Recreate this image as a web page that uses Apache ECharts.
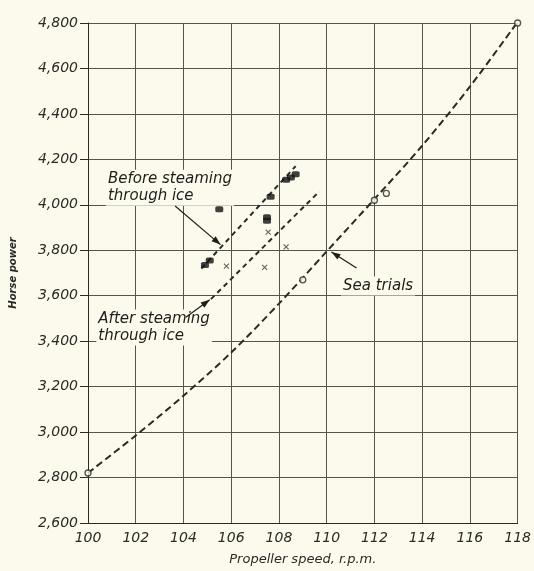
<!DOCTYPE html>
<html>
<head>
<meta charset="utf-8">
<script src="https://cdn.jsdelivr.net/npm/echarts@6/dist/echarts.min.js"></script>
<style>
html,body{margin:0;padding:0;background:#fbfaec;}
#c{width:534px;height:571px;}
</style>
</head>
<body>
<div id="c"></div>
<script>
// ---- data ----
const xTicks = [100,102,104,106,108,110,112,114,116,118];
const yTicks = [2600,2800,3000,3200,3400,3600,3800,4000,4200,4400,4600,4800];

// Sea trials faired curve
const seaCurveX = [100, 102, 104, 106, 108, 110, 112, 114, 116, 118];
const seaCurveY = [2820, 2985, 3160, 3350, 3565, 3795, 4025, 4260, 4520, 4805];
// Sea trials observed points
const seaPtsX = [100, 109, 112, 112.5, 118];
const seaPtsY = [2820, 3670, 4020, 4050, 4800];

// Before steaming through ice
const beforeLineX = [104.75, 108.7];
const beforeLineY = [3720, 4170];
const beforePtsX = [104.9, 105.1, 105.5, 107.5, 107.5, 107.65, 108.3, 108.5, 108.7];
const beforePtsY = [3735, 3755, 3980, 3945, 3930, 4035, 4110, 4120, 4135];

// After steaming through ice
const afterLineX = [105.15, 109.7];
const afterLineY = [3585, 4060];
const afterPtsX = [105.8, 107.4, 107.55, 108.3];
const afterPtsY = [3730, 3725, 3880, 3815];

// annotations (data coords)
const notes = [
  {text:'Before steaming\nthrough ice', at:[100.75, 4075], from:[103.65, 3995], to:[105.55, 3825]},
  {text:'After steaming\nthrough ice',  at:[100.35, 3460], from:[104.1, 3505], to:[105.1, 3582]},
  {text:'Sea trials',                   at:[110.6, 3643], from:[111.25, 3722], to:[110.2, 3792]}
];

const zip = (a,b) => a.map((v,i)=>[v,b[i]]);
const ink = '#2a2a26';
const font = 'DejaVu Sans';

const chart = echarts.init(document.getElementById('c'));
chart.setOption({
  backgroundColor: '#fbfaec',
  animation: false,
  grid: {left: 88, right: 10, top: 23, bottom: 44},
  xAxis: {
    type: 'value', min: 100, max: 118, interval: 2,
    name: 'Propeller speed, r.p.m.', nameLocation: 'middle', nameGap: 30,
    nameTextStyle: {fontFamily: font, fontStyle: 'italic', fontSize: 13, color: ink},
    axisLine: {show: true, lineStyle: {color: ink, width: 1}},
    axisTick: {show: false},
    axisLabel: {fontFamily: font, fontStyle: 'italic', fontSize: 14, color: ink, margin: 8,
                formatter: v => String(v)},
    splitLine: {show: true, lineStyle: {color: '#55554e', width: 1}}
  },
  yAxis: {
    type: 'value', min: 2600, max: 4800, interval: 200,
    name: 'Horse power', nameLocation: 'middle', nameGap: 70, nameRotate: 90,
    nameTextStyle: {fontFamily: font, fontStyle: 'italic', fontWeight: 'bold', fontSize: 10, color: ink},
    axisLine: {show: true, lineStyle: {color: ink, width: 1}},
    axisTick: {show: true, length: 8, lineStyle: {color: ink, width: 1}},
    axisLabel: {fontFamily: font, fontStyle: 'italic', fontSize: 14, color: ink, margin: 10,
                formatter: v => v.toLocaleString('en-US')},
    splitLine: {show: true, lineStyle: {color: '#55554e', width: 1}}
  },
  series: [
    {type: 'line', data: zip(seaCurveX, seaCurveY), smooth: 0.3,
     showSymbol: false, lineStyle: {color: ink, width: 2, type: [7, 4]}, z: 3},
    {type: 'scatter', data: zip(seaPtsX, seaPtsY), symbol: 'circle', symbolSize: 6,
     itemStyle: {color: '#fbfaec', borderColor: ink, borderWidth: 1.3}, z: 5},
    {type: 'line', data: zip(beforeLineX, beforeLineY), showSymbol: false,
     lineStyle: {color: ink, width: 2, type: [5, 4]}, z: 3},
    {type: 'scatter', data: zip(beforePtsX, beforePtsY), symbol: 'roundRect', symbolSize: [8, 6],
     itemStyle: {color: '#111'}, z: 5},
    {type: 'line', data: zip(afterLineX, afterLineY), showSymbol: false,
     lineStyle: {color: ink, width: 2, type: [5, 4]}, z: 3},
    {type: 'scatter', data: zip(afterPtsX, afterPtsY), symbol: 'path://M0,0L10,10M10,0L0,10', symbolSize: 5,
     itemStyle: {color: 'none', borderColor: '#444', borderWidth: 1.2}, z: 5}
  ]
});

// annotations positioned through the axes
const g = [];
notes.forEach(n => {
  const p = chart.convertToPixel({gridIndex: 0}, n.at);
  const a = chart.convertToPixel({gridIndex: 0}, n.from);
  const b = chart.convertToPixel({gridIndex: 0}, n.to);
  g.push({type: 'text', x: p[0], y: p[1], z: 10,
    style: {text: n.text, fill: '#1e1e1a', font: 'italic 15px "DejaVu Sans"', lineHeight: 17,
            textAlign: 'left', textVerticalAlign: 'middle', backgroundColor: '#fbfaec', padding: [1, 2]}});
  g.push({type: 'line', z: 10, shape: {x1: a[0], y1: a[1], x2: b[0], y2: b[1]},
    style: {stroke: '#1e1e1a', lineWidth: 1.2}});
  const ang = Math.atan2(b[1] - a[1], b[0] - a[0]);
  const L = 9, W = 3.2;
  const bx = b[0] - L * Math.cos(ang), by = b[1] - L * Math.sin(ang);
  const px = -Math.sin(ang) * W, py = Math.cos(ang) * W;
  g.push({type: 'polygon', z: 10, shape: {points: [[b[0], b[1]], [bx + px, by + py], [bx - px, by - py]]},
    style: {fill: '#1e1e1a'}});
});
chart.setOption({graphic: g});
</script>
</body>
</html>
